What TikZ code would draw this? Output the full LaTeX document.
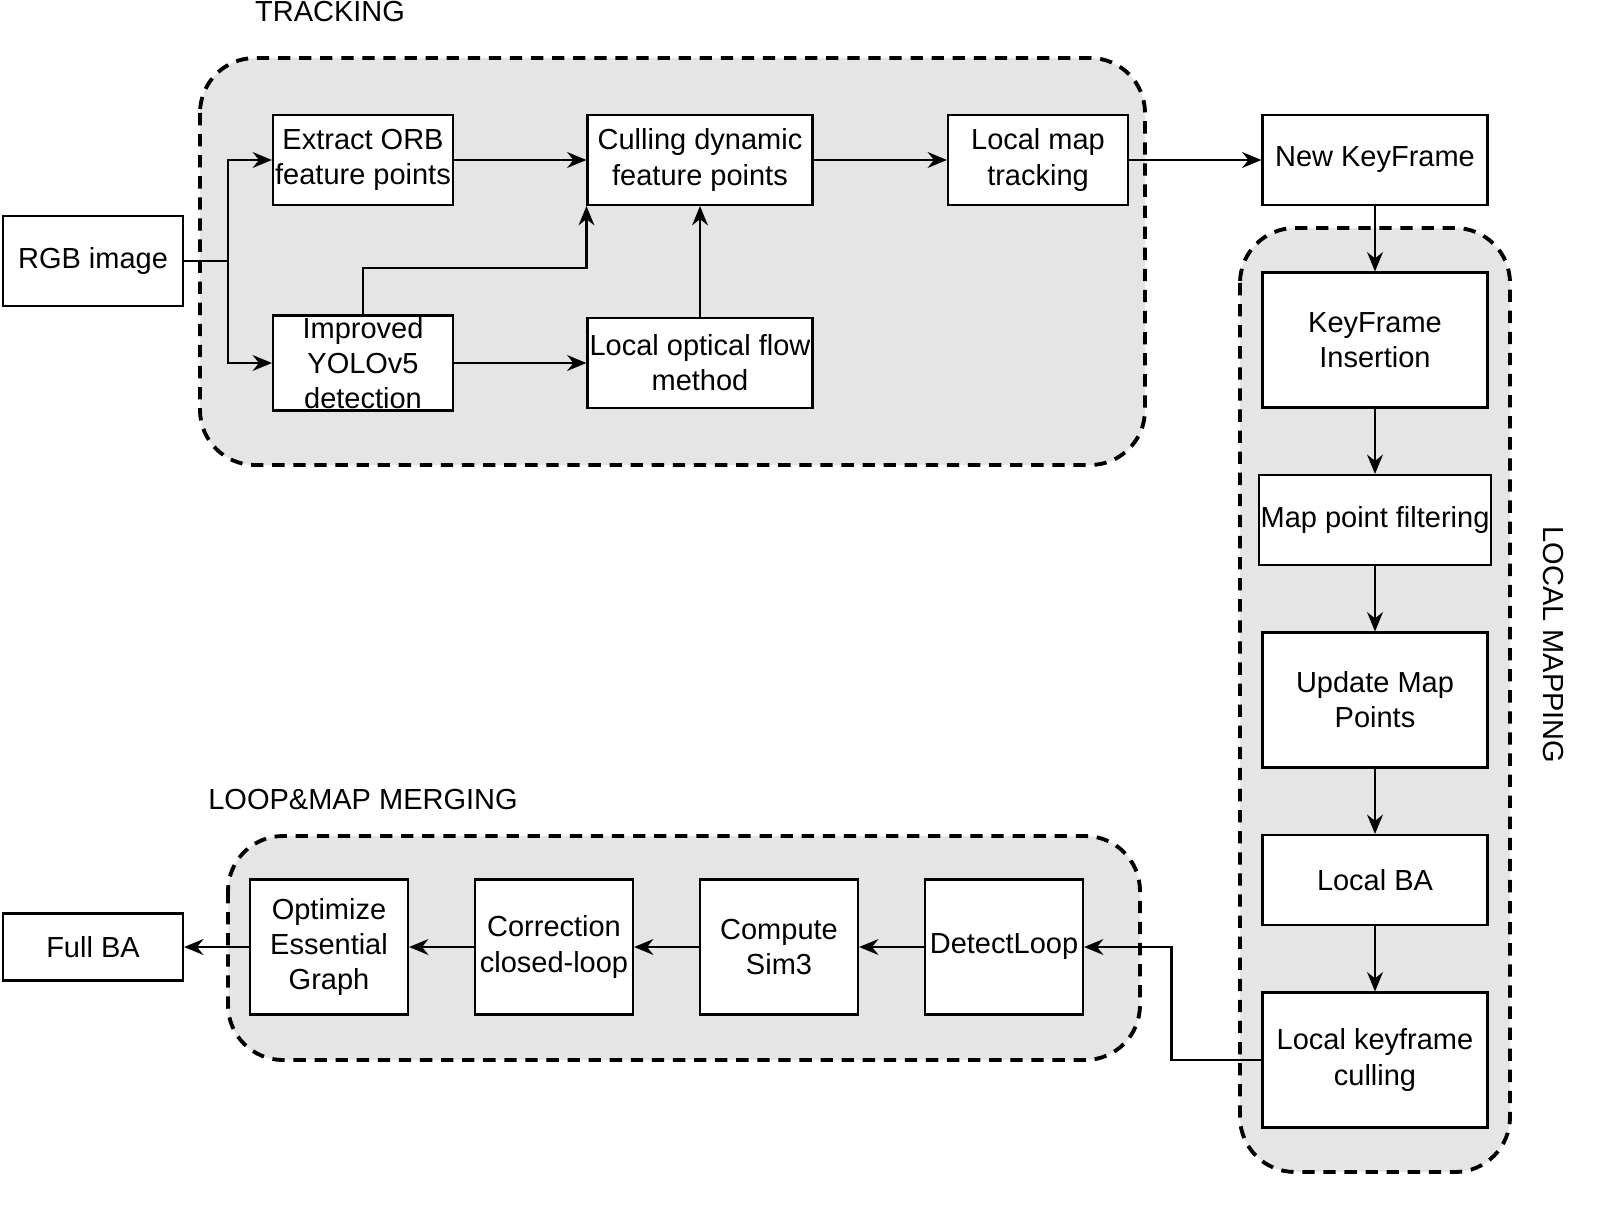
\documentclass[tikz,border=0pt]{standalone}
\usepackage{fontspec}
\setmainfont{Liberation Sans}
\usetikzlibrary{positioning,arrows.meta}
\tikzset{
  block/.style={draw, line width=1.2pt, fill=white, text centered, align=center, minimum width=3.6cm, minimum height=1.8cm, inner sep=1pt},
  region/.style={draw, line width=2.2pt, dash pattern=on 7pt off 5pt, fill=gray!20, rounded corners=1.1cm},
  flow/.style={-{Stealth[length=11pt,width=9pt]}, line width=1.2pt},
}
\begin{document}
\begin{tikzpicture}[x=0.02cm, y=-0.02cm, font=\fontsize{16.5}{20}\selectfont]
\useasboundingbox (0,0) rectangle (1605,1206);

% regions
\path[region] (200,58) rectangle (1145,465);
\path[region] (1240,228) rectangle (1510,1172);
\path[region] (228,836) rectangle (1140,1060);

\node at (330,12) {TRACKING};
\node at (363,800) {LOOP\&MAP MERGING};
\node[rotate=-90] at (1553,645) {LOCAL MAPPING};

% tracking
\node (rgb) [block] at (93,261) {RGB image};
\node (orb) [block] at (363,160) {Extract ORB\\feature points};
\node (cull) [block, minimum width=4.5cm] at (700,160) {Culling dynamic\\feature points};
\node (track) [block] at (1038,160) {Local map\\tracking};
\node (yolo) [block] at (363,363) {Improved\\YOLOv5\\detection};
\node (flow) [block, minimum width=4.5cm] at (700,363) {Local optical flow\\method};
\node (newkf) [block, minimum width=4.5cm] at (1375,160) {New KeyFrame};

% local mapping
\node (kfins) [block, minimum width=4.5cm, minimum height=2.7cm] at (1375,340) {KeyFrame\\Insertion};
\node (filter) [block, minimum width=4.5cm] at (1375,520) {Map point filtering};
\node (update) [block, minimum width=4.5cm, minimum height=2.7cm] at (1375,700) {Update Map\\Points};
\node (lba) [block, minimum width=4.5cm] at (1375,880) {Local BA};
\node (kfcull) [block, minimum width=4.5cm, minimum height=2.7cm] at (1375,1060) {Local keyframe\\culling};

% loop & map merging
\node (detect) [block, minimum width=3.16cm, minimum height=2.7cm] at (1004,947) {DetectLoop};
\node (sim3) [block, minimum width=3.16cm, minimum height=2.7cm] at (779,947) {Compute\\Sim3};
\node (corr) [block, minimum width=3.16cm, minimum height=2.7cm] at (554,947) {Correction\\closed-loop};
\node (opt) [block, minimum width=3.16cm, minimum height=2.7cm] at (329,947) {Optimize\\Essential\\Graph};
\node (fullba) [block, minimum height=1.34cm] at (93,947) {Full BA};

\coordinate (split) at (228,261);
\draw[line width=1.2pt] (rgb.east) -- (split);
\draw[flow] (split) |- (orb.west);
\draw[flow] (split) |- (yolo.west);
\draw[flow] (orb) -- (orb -| cull.west);
\draw[flow] (yolo) -- (yolo -| flow.west);
\draw[flow] (yolo.north) -- ++(0,-46) -| (cull.south west);
\draw[flow] (flow.north) -- (cull.south);
\draw[flow] (cull) -- (track);
\draw[flow] (track) -- (newkf);
\draw[flow] (newkf) -- (kfins);
\draw[flow] (kfins) -- (filter);
\draw[flow] (filter) -- (update);
\draw[flow] (update) -- (lba);
\draw[flow] (lba) -- (kfcull);
\draw[flow] (kfcull.west) -- ++(-90,0) |- (detect.east);
\draw[flow] (detect) -- (sim3);
\draw[flow] (sim3) -- (corr);
\draw[flow] (corr) -- (opt);
\draw[flow] (opt) -- (fullba);
\end{tikzpicture}
\end{document}
